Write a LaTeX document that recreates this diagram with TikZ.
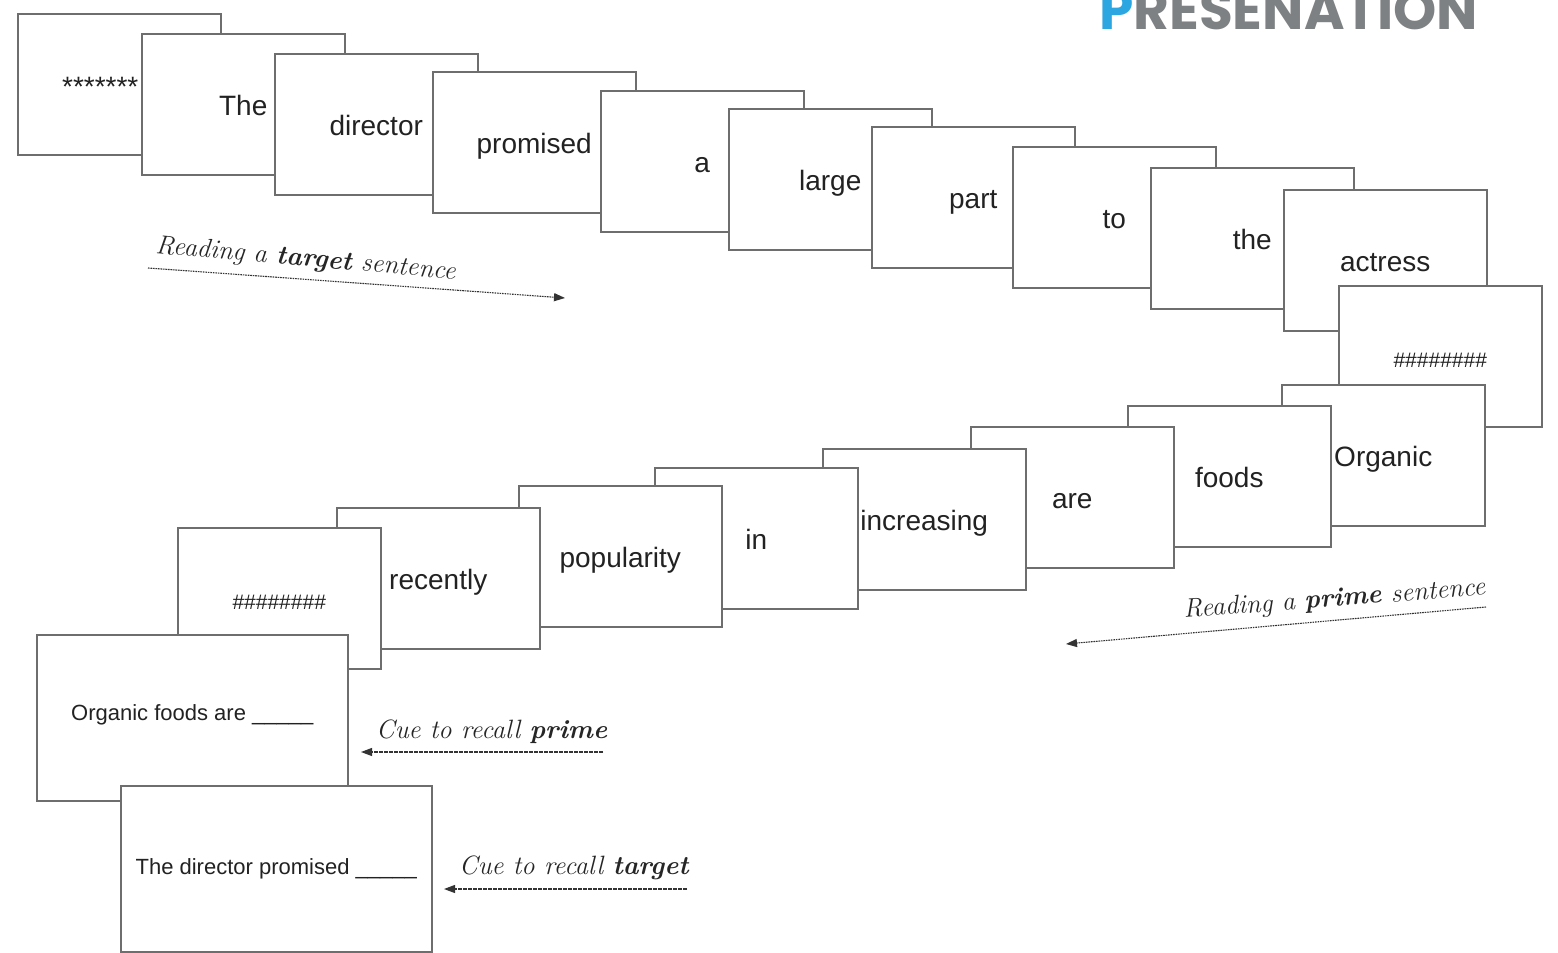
\documentclass[tikz,border=0pt]{standalone}
\usepackage{fontspec}
\usetikzlibrary{arrows.meta}
\newfontfamily\cardfont{Liberation Sans}
\newfontfamily\titlefont{Poppins}
\definecolor{cardline}{HTML}{6E6E6E}
\definecolor{cardtext}{HTML}{222222}
\definecolor{titleblue}{HTML}{2CA6E0}
\definecolor{titlegray}{HTML}{7E8183}
\definecolor{flowgray}{HTML}{333333}
\begin{document}
\begin{tikzpicture}[x=1pt,y=-1pt,
  card/.style={draw=cardline, fill=white, line width=1.5pt, anchor=north west,
    minimum width=203pt, minimum height=141pt, inner sep=0pt,
    text height=22pt, text depth=0pt, text=cardtext,
    font=\cardfont\fontsize{28}{30}\selectfont},
  hashcard/.style={card, font=\cardfont\fontsize{21}{24}\selectfont},
  cuecard/.style={card, minimum width=311pt, minimum height=166pt,
    text height=16pt, text depth=10pt,
    font=\cardfont\fontsize{22}{26}\selectfont},
  flow/.style={draw=flowgray, line width=1.1pt, dash pattern=on 1.6pt off 0.9pt,
    -{Triangle[length=11pt,width=8pt]}},
  lbl/.style={inner sep=0pt, text=black!85,
    font=\fontsize{26.5}{29}\selectfont\itshape}]
\useasboundingbox (0,0) rectangle (1558,953);
\fill[white] (0,0) rectangle (1558,953);

% heading
\node[anchor=base west, inner sep=0pt, font=\titlefont\bfseries\fontsize{55}{60}\selectfont]
  (title) at (1099,29) {\textcolor{titleblue}{P}\textcolor{titlegray}{RESENATION}};

% target sentence, read left to right
\node[card, text height=25pt] (t0)  at (17,13)   {*******\hspace*{38pt}};
\node[card] (t1)  at (141,33)  {The};
\node[card] (t2)  at (274,53)  {director};
\node[card] (t3)  at (432,71)  {promised};
\node[card] (t4)  at (600,90)  {a};
\node[card] (t5)  at (728,108) {large};
\node[card] (t6)  at (871,126) {part};
\node[card] (t7)  at (1012,146) {to};
\node[card] (t8)  at (1150,167) {the};
\node[card] (t9)  at (1283,189) {actress};
\node[hashcard] (t10) at (1338,285) {\#\#\#\#\#\#\#\#};

% prime sentence, laid out right to left
\node[card] (p1) at (1281,384) {Organic};
\node[card] (p2) at (1127,405) {foods};
\node[card] (p3) at (970,426)  {are};
\node[card] (p4) at (822,448)  {increasing};
\node[card] (p5) at (654,467)  {in};
\node[card] (p6) at (518,485)  {popularity};
\node[card] (p7) at (336,507)  {recently};
\node[hashcard] (p8) at (177,527) {\#\#\#\#\#\#\#\#};

% recall cues
\node[cuecard] (c1) at (36,634) {Organic foods are \_\_\_\_\_};
\node[cuecard, text height=16pt, text depth=4pt] (c2) at (120,785) {The director promised \_\_\_\_\_};

% direction labels and arrows
\node[lbl, anchor=base west, rotate=-5] (l1) at (155,253) {Reading a \textbf{target} sentence};
\coordinate (a1s) at (148,268);
\coordinate (a1e) at (565,298);
\draw[flow] (a1s) -- (a1e);

\node[lbl, anchor=base west, rotate=4.4] (l2) at (1184,618) {Reading a \textbf{prime} sentence};
\coordinate (a2s) at (1486,607);
\coordinate (a2e) at (1066,644);
\draw[flow] (a2s) -- (a2e);

\node[lbl, anchor=base west] (l3) at (376,738) {Cue to recall \textbf{prime}};
\coordinate (a3s) at (603,752);
\coordinate (a3e) at (361,752);
\draw[flow] (a3s) -- (a3e);

\node[lbl, anchor=base west] (l4) at (459,874) {Cue to recall \textbf{target}};
\coordinate (a4s) at (687,889);
\coordinate (a4e) at (444,889);
\draw[flow] (a4s) -- (a4e);
\end{tikzpicture}
\end{document}
